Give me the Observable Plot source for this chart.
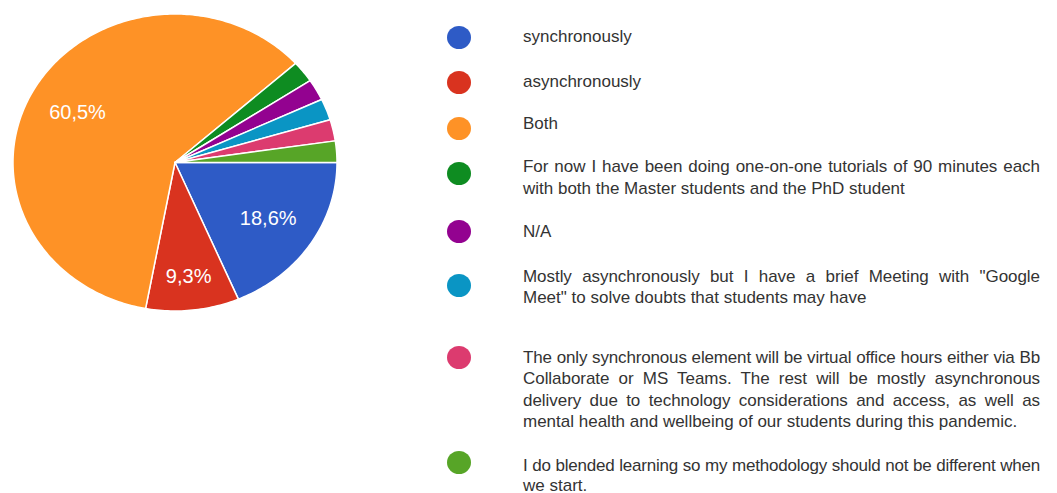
<!DOCTYPE html>
<html><head><meta charset="utf-8">
<script src="https://cdn.jsdelivr.net/npm/d3@7"></script>
<script src="https://cdn.jsdelivr.net/npm/@observablehq/plot@0.6"></script>
<style>
html,body{margin:0;padding:0;background:#fff;}
#wrap{position:relative;width:1057px;height:493px;overflow:hidden;font-family:"Liberation Sans",Arial,sans-serif;}
#chart{position:absolute;left:0;top:0;}
.dot{position:absolute;left:447px;width:24px;height:23px;border-radius:50%;}
.txt{position:absolute;left:523px;width:517px;font-size:17px;color:#333;}
.ln{white-space:nowrap;text-align:left;}
.ln.j{text-align:justify;text-align-last:justify;}
</style></head><body>
<div id="wrap"><div id="chart"></div><div id="legend"></div></div>
<script>
// ---- data ----
const categories = [
  "synchronously",
  "asynchronously",
  "Both",
  "For now I have been doing one-on-one tutorials of 90 minutes each\nwith both the Master students and the PhD student",
  "N/A",
  "Mostly asynchronously but I have a brief Meeting with \"Google\nMeet\" to solve doubts that students may have",
  "The only synchronous element will be virtual office hours either via Bb\nCollaborate or MS Teams. The rest will be mostly asynchronous\ndelivery due to technology considerations and access, as well as\nmental health and wellbeing of our students during this pandemic.",
  "I do blended learning so my methodology should not be different when\nwe start."
];
const counts = [8, 4, 26, 1, 1, 1, 1, 1];
const colors = ["#2e5bc6", "#d9331f", "#fe9226", "#0e8c21", "#930290", "#0a95c4", "#dc3b6f", "#57a527"];

// ---- legend layout (pixels) ----
const legendDotY = [37, 82, 128, 173, 231, 285, 357, 462];
const legendTextTop = [26, 71, 113, 156, 221, 266, 347, 456];
const legendLineHeight = [21.5, 21.5, 21.5, 22, 21.5, 21, 21.3, 19.5];

// ---- build pie geometry from data ----
const total = d3.sum(counts);
const arcs = d3.pie().sort(null).value(d => d).startAngle(0).endAngle(2 * Math.PI)(counts);
const pts = [];
arcs.forEach((a, i) => {
  const k = categories[i];
  pts.push({k, x: 0, y: 0});
  const n = Math.max(4, Math.ceil((a.endAngle - a.startAngle) / (Math.PI / 180)));
  for (let j = 0; j <= n; j++) {
    const t = a.startAngle + (a.endAngle - a.startAngle) * j / n;
    pts.push({k, x: Math.cos(t), y: Math.sin(t)});
  }
  pts.push({k, x: 0, y: 0});
});
const labels = arcs
  .map((a, i) => {
    const f = counts[i] / total;
    const m = (a.startAngle + a.endAngle) / 2;
    const r = f < 0.15 ? 0.77 : 0.69;
    return {f, x: r * Math.cos(m), y: r * Math.sin(m), text: (f * 100).toFixed(1).replace(".", ",") + "%"};
  })
  .filter(d => d.f > 0.05);

const chart = Plot.plot({
  width: 350, height: 330,
  margin: 0,
  x: {domain: [-1, 1], range: [12.5, 336.5], axis: null},
  y: {domain: [-1, 1], range: [13.5, 310.5], axis: null},
  color: {domain: categories, range: colors},
  style: {background: "transparent", fontFamily: "'Liberation Sans', Arial, sans-serif"},
  marks: [
    Plot.line(pts, {x: "x", y: "y", z: "k", fill: "k", stroke: "white", strokeWidth: 1.5, strokeLinejoin: "round", curve: "linear"}),
    Plot.text(labels, {x: "x", y: "y", text: "text", fill: "white", fontSize: 20})
  ]
});
document.getElementById("chart").appendChild(chart);

// ---- legend ----
const cs = Plot.scale({color: chart.scale("color")});
const legend = document.getElementById("legend");
const BOX = 517;
categories.forEach((c, i) => {
  const dot = document.createElement("div");
  dot.className = "dot";
  dot.style.top = (legendDotY[i] - 11.5) + "px";
  dot.style.background = cs.apply(c);
  legend.appendChild(dot);
  const txt = document.createElement("div");
  txt.className = "txt";
  txt.style.top = legendTextTop[i] + "px";
  txt.style.lineHeight = legendLineHeight[i] + "px";
  legend.appendChild(txt);
  const lines = c.split("\n");
  lines.forEach((l, j) => {
    const ln = document.createElement("div");
    ln.className = "ln" + (j < lines.length - 1 ? " j" : "");
    const sp = document.createElement("span");
    sp.textContent = l;
    ln.appendChild(sp);
    txt.appendChild(ln);
    const w = sp.getBoundingClientRect().width;
    if (w > BOX - 2) {
      ln.style.letterSpacing = ((BOX - 3 - w) / l.length).toFixed(3) + "px";
    }
  });
});
</script>
</body></html>
